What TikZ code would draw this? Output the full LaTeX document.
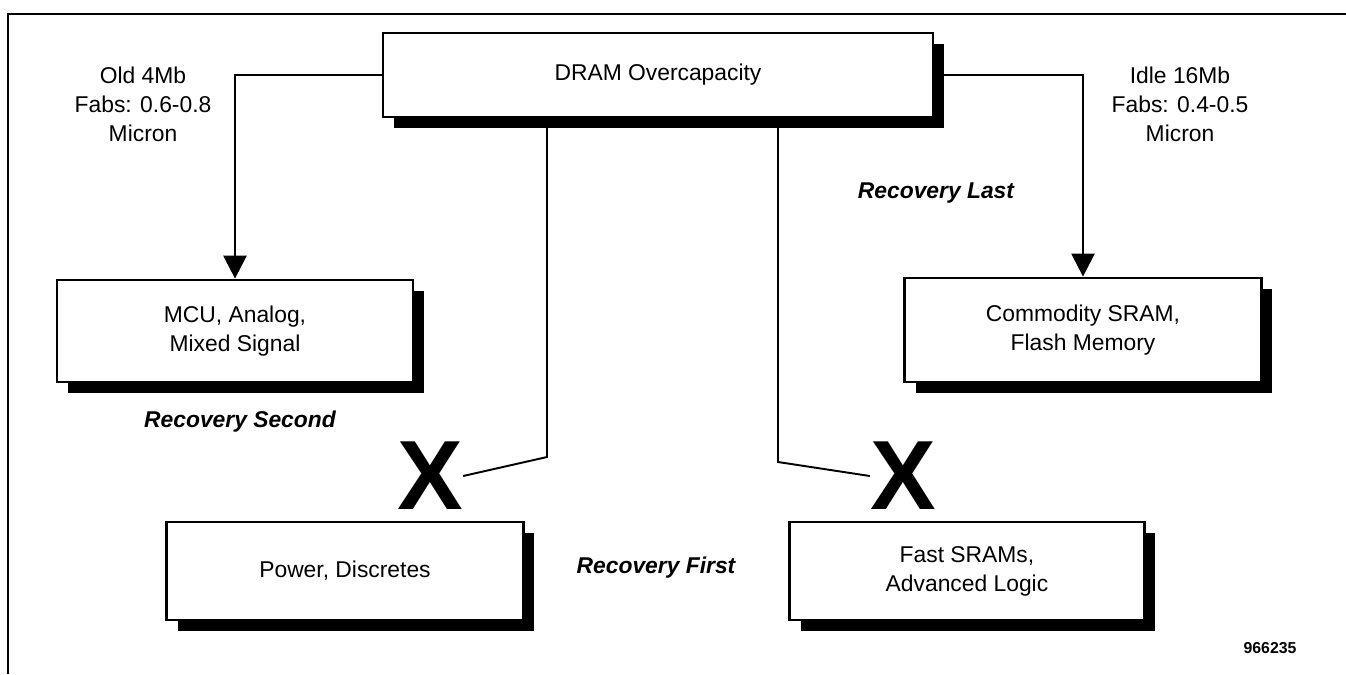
\documentclass[tikz,border=0pt]{standalone}
\usepackage{fontspec}
\setmainfont{Liberation Sans}
\usetikzlibrary{arrows.meta,shadows}

\begin{document}
\begin{tikzpicture}[x=0.02cm,y=-0.02cm,
  box/.style={draw,line width=1.6pt,fill=white,align=center,
    font=\fontsize{13}{16.5}\selectfont,
    drop shadow={shadow xshift=0.22cm,shadow yshift=-0.22cm,fill=black,opacity=1}},
  feed/.style={line width=1.4pt,-{Triangle[length=0.46cm,width=0.46cm]}},
  link/.style={line width=1.1pt},
  note/.style={align=center,font=\fontsize{13}{16.5}\selectfont},
  phase/.style={font=\fontsize{13}{16}\selectfont\bfseries\itshape},
  cross/.style={inner sep=0pt,font=\fontsize{56}{56}\selectfont\bfseries}]
  \useasboundingbox (0,0) rectangle (1346,674);

  % Frame
  \draw[line width=1.1pt] (8,674) -- (8,14) -- (1346,14);

  % Boxes
  \node[box,minimum width=11cm,minimum height=1.68cm] (dram) at (658,75) {DRAM Overcapacity};
  \node[box,minimum width=7.12cm,minimum height=2.04cm] (mcu) at (235,331) {MCU, Analog,\\Mixed Signal};
  \node[box,minimum width=7.14cm,minimum height=2.08cm] (comm) at (1083,330) {Commodity SRAM,\\Flash Memory};
  \node[box,minimum width=7.14cm,minimum height=1.96cm] (power) at (345,571) {Power, Discretes};
  \node[box,minimum width=7.1cm,minimum height=1.96cm] (fast) at (967,571) {Fast SRAMs,\\Advanced Logic};

  % Fab notes
  \node[note] (oldfab) at (143,104) {Old 4Mb\\Fabs: 0.6-0.8\\Micron};
  \node[note] (idlefab) at (1180,104) {Idle 16Mb\\Fabs: 0.4-0.5\\Micron};

  % Recovery order
  \node[phase] (second) at (240,422) {Recovery Second};
  \node[phase] (last) at (936,193) {Recovery Last};
  \node[phase] (first) at (656,568) {Recovery First};

  % Crossed out paths
  \node[cross] (xleft) at (430,476) {X};
  \node[cross] (xright) at (903,476) {X};

  % Arrows
  \draw[feed] (dram.west) -| (mcu.north);
  \draw[feed] (dram.east) -| (comm.north);
  \coordinate (lbend) at (547,457);
  \coordinate (rbend) at (778,462);
  \draw[link] (dram.south -| lbend) -- (lbend) -- (xleft.east);
  \draw[link] (dram.south -| rbend) -- (rbend) -- (xright.west);

  % Figure number
  \node[font=\fontsize{9}{9}\selectfont\bfseries] (figno) at (1270,648) {966235};
\end{tikzpicture}
\end{document}
